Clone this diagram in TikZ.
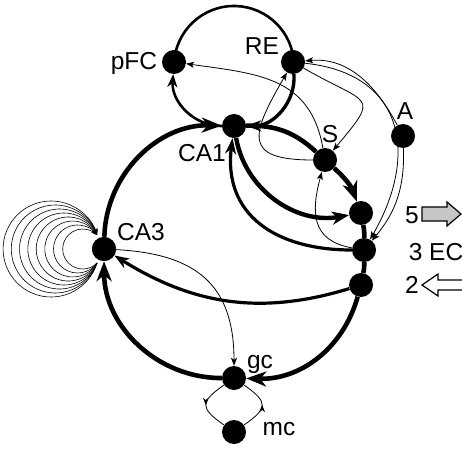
\documentclass[tikz,border=0pt]{standalone}
\usepackage{fontspec}
\setmainfont{Liberation Sans}
\usetikzlibrary{arrows.meta,decorations.markings,calc}
\begin{document}
\begin{tikzpicture}[x=1pt,y=1pt,
  dot/.style={circle,fill=black,minimum size=24pt,inner sep=0pt},
  lab/.style={font=\fontsize{24.5}{26}\selectfont, inner sep=0pt, anchor=base},
  thinln/.style={line width=0.8pt, -{Stealth[length=8pt,width=6pt,inset=2pt]}},
  bigtip/.style={-{Stealth[length=20pt,width=15pt,inset=6pt]}},
  medtip/.style={-{Stealth[length=15pt,width=11pt,inset=4.5pt]}},
  bigln/.style={line width=4.6pt},
  midtip/.style={decoration={markings, mark=at position 0.5 with {\arrow{Stealth[length=7pt,width=5.5pt,inset=2pt]}}}, postaction={decorate}},
]
\useasboundingbox (0,0) rectangle (462,450);

% nodes
\coordinate (TC) at (234,384);
\node[dot] (pFC) at (174,388) {};
\node[dot] (RE)  at (293,388) {};
\node[dot] (CA1) at (234,324) {};
\node[dot] (S)   at (325,290) {};
\node[dot] (A)   at (403,314) {};
\node[dot] (EC5) at (361,237) {};
\node[dot] (EC3) at (364,200) {};
\node[dot] (EC2) at (361,165) {};
\node[dot] (CA3) at (104,201) {};
\node[dot] (gc)  at (234,72) {};
\node[dot] (mc)  at (234,18) {};

% labels
\node[lab] (lpFC) at (134,380) {pFC};
\node[lab] (lRE)  at (262,395) {RE};
\node[lab] (lCA1) at (202,288) {CA1};
\node[lab] (lS)   at (330,307) {S};
\node[lab] (lA)   at (405,330) {A};
\node[lab] (lCA3) at (141,210) {CA3};
\node[lab] (lgc)  at (260,82) {gc};
\node[lab] (lmc)  at (279,15) {mc};
\node[lab] (l5)   at (412,227) {5};
\node[lab] (l3)   at (436,190) {3 EC};
\node[lab] (l2)   at (412,157) {2};

% big loop
\draw[bigln,bigtip] (CA3) to[bend left=45] (CA1);
\draw[bigln] (CA1) to[bend left=22] (S);
\draw[bigln,bigtip] (S) to[bend left=14] (EC5);
\draw[bigln] (EC5) to[bend left=6] (EC3);
\draw[bigln] (EC3) to[bend left=6] (EC2);
\draw[bigln,bigtip] (EC2) to[bend left=38] (gc);
\draw[bigln,bigtip] (gc) to[bend left=45] (CA3);

% top loop
\draw[line width=2.6pt,-{Stealth[length=13pt,width=10pt,inset=4pt]}] (CA1) to[bend left=47] (pFC);
\draw[line width=2.6pt] ([shift={(178:60)}]TC) arc[start angle=178, end angle=2, radius=60];
\draw[line width=3.4pt,medtip] (RE) to[bend left=47] (CA1);

% CA1 <-> EC
\draw[line width=4.4pt,-{Stealth[length=17pt,width=13pt,inset=5pt]}] (CA1) to[out=-80, in=190] (EC5);
\draw[line width=3.2pt,-{Stealth[length=16pt,width=11pt,inset=5pt]}] (EC3) to[out=180, in=-97, looseness=1.2] (CA1);
\draw[line width=3.2pt,-{Stealth[length=15pt,width=11pt,inset=5pt]}] (EC2) to[out=197, in=-32] (CA3);

% thin connectors
\draw[thinln] (S) to[out=100, in=-8, looseness=1.15] (pFC);
\draw[thinln] (S) to[out=180, in=240, looseness=2] (RE);
\draw[thinln] (RE) to[out=-30, in=50, looseness=2.2] (S);
\draw[thinln] (A) to[out=118, in=5] (RE);
\draw[thinln] (RE) to[out=-6, in=60, looseness=1.35] (EC3);
\draw[thinln] (A) to[out=-88, in=50] (EC3);
\draw[thinln] (EC3) to[out=170, in=-105, looseness=1.3] (S);
\draw[thinln] (CA3) to[out=-3, in=90, looseness=1.25] (gc);

% gc <-> mc
\draw[line width=0.8pt,midtip] (gc) to[out=215, in=145, looseness=1.9] (mc);
\draw[line width=0.8pt,midtip] (mc) to[out=35, in=-35, looseness=1.9] (gc);

% CA3 recurrent loops
\foreach \r in {20,24,...,48} {
  \pgfmathsetmacro\b{asin(14/\r)}
  \draw[line width=0.6pt,-{Stealth[length=6pt,width=5pt,inset=2pt]}] ([shift={(-7,-14)}]CA3.center) arc[start angle={-\b}, end angle={\b-360}, radius=\r];
}
\node[dot] at (CA3) {};

% EC input/output arrows
\draw[line width=1.2pt, fill=gray!45] (422,229) -- (447,229) -- (447,224) -- (461,236) -- (447,248) -- (447,243) -- (422,243) -- cycle;
\draw[line width=1.2pt, fill=white] (462,170) -- (438,170) -- (438,176) -- (422,165) -- (438,154) -- (438,160) -- (462,160);
\end{tikzpicture}
\end{document}
